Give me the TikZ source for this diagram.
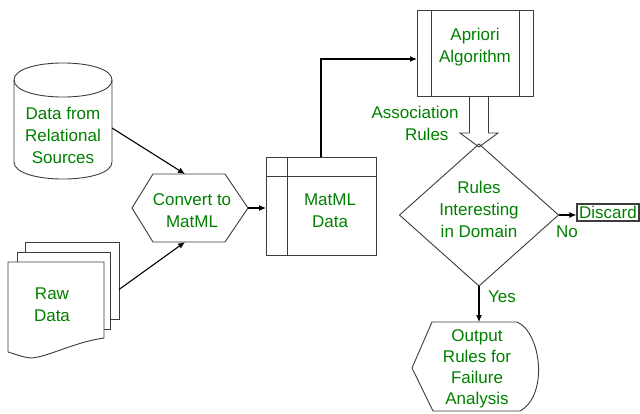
\documentclass[tikz,border=0pt]{standalone}
\usepackage{fontspec}
\setmainfont{Liberation Sans}
\usetikzlibrary{arrows.meta,calc}
\definecolor{txtgreen}{RGB}{0,128,0}
\definecolor{edgegray}{RGB}{60,60,60}
\begin{document}
\begin{tikzpicture}[x=1pt,y=-1pt,
  hold/.style={draw=none, inner sep=0pt, outer sep=0pt, rectangle},
  outline/.style={draw=edgegray, line width=0.9pt, fill=white},
  lbl/.style={text=txtgreen, font=\fontsize{17}{22}\selectfont, align=center, inner sep=0pt},
  arr/.style={draw=black, line width=1.1pt, -{Latex[length=7pt,width=6pt]}},
]
\fill[white] (0,0) rectangle (640,413);
\useasboundingbox (0,0) rectangle (640,413);

% database cylinder
\node[hold, minimum width=98pt, minimum height=116pt] (db) at (63,121) {};
\draw[outline] (14,80) -- (14,162) .. controls (14,184.7) and (112,184.7) .. (112,162) -- (112,80) .. controls (112,57.3) and (14,57.3) .. (14,80) -- cycle;
\draw[outline, fill=none] (14,80) .. controls (14,102.7) and (112,102.7) .. (112,80);

% raw data stack
\node[hold, minimum width=94pt, minimum height=77pt] (raw) at (72,280.5) {};
\draw[outline] (25,242) rectangle (119,319);
\draw[outline] (17,252) rectangle (110,329);
\draw[outline] (8,262) -- (104,262) -- (104,338) .. controls (75,342) and (50,356) .. (32,358) .. controls (25,358) and (15,354) .. (8,352) -- cycle;

% convert hexagon
\node[hold, minimum width=116pt, minimum height=68pt] (conv) at (190,208) {};
\draw[outline] (conv.west) -- ($(conv.north west)+(21,0)$) -- ($(conv.north east)+(-23,0)$) -- (conv.east) -- ($(conv.south east)+(-23,0)$) -- ($(conv.south west)+(21,0)$) -- cycle;

% MatML data box
\node[hold, draw=edgegray, line width=0.9pt, minimum width=110pt, minimum height=98pt] (matml) at (321,206) {};
\draw[edgegray, line width=0.9pt] ($(matml.north west)+(0,19)$) -- ($(matml.north east)+(0,19)$);
\draw[edgegray, line width=0.9pt] ($(matml.north west)+(21,0)$) -- ($(matml.south west)+(21,0)$);

% Apriori box
\node[hold, draw=edgegray, line width=0.9pt, minimum width=116pt, minimum height=86pt] (apriori) at (475,53) {};
\draw[edgegray, line width=0.9pt] ($(apriori.north west)+(14,0)$) -- ($(apriori.south west)+(14,0)$);
\draw[edgegray, line width=0.9pt] ($(apriori.north east)+(-14,0)$) -- ($(apriori.south east)+(-14,0)$);

% decision diamond
\node[hold, minimum width=159pt, minimum height=142pt] (dia) at (479,215) {};
\draw[outline, fill=none] (dia.west) -- (dia.north) -- (dia.east) -- (dia.south) -- cycle;

% hollow block arrow
\coordinate (ha) at (dia.north |- apriori.south);
\draw[outline, fill=none] ($(ha)+(-9.5,0)$) -- ($(ha)+(-9.5,37)$) -- ($(ha)+(-19,37)$) -- ($(dia.north)+(0,3)$) -- ($(ha)+(19,37)$) -- ($(ha)+(9.5,37)$) -- ($(ha)+(9.5,0)$);

% discard box
\node[draw=edgegray, line width=1.3pt, text=txtgreen, font=\fontsize{17}{22}\selectfont, inner sep=1pt, minimum width=62pt, minimum height=17pt] (disc) at (608,212.5) {Discard};

% output display shape
\node[hold, minimum width=127pt, minimum height=89pt] (out) at (475.5,366.5) {};
\draw[outline] (432,322) -- (517,322) .. controls (541,332) and (549,395) .. (520,411) -- (433,411) -- (412,368) -- cycle;

% connectors
\draw[arr] ($(db.east)+(0,7)$) -- ($(conv.north)+(-5,0)$);
\draw[arr] ($(raw.east)+(0,9)$) -- ($(conv.south)+(-5,0)$);
\draw[arr] (conv.east) -- (conv.east -| matml.west);
\draw[arr] (matml.north) |- ($(apriori.west)+(0,6)$);
\draw[arr] (dia.east) -- (dia.east -| disc.west);
\draw[arr] (dia.south) -- (dia.south |- out.north);

% labels
\node[lbl] (dbt) at (63,135) {Data from\\Relational\\Sources};
\node[lbl] (rawt) at (52,305) {Raw\\Data};
\node[lbl] (convt) at (192,211) {Convert to\\MatML};
\node[lbl] (matmlt) at (330,211) {MatML\\Data};
\node[lbl] (aprt) at (475,47) {Apriori\\Algorithm};
\node[lbl, align=right] (assoc) at (415,123) {Association\\Rules\hspace*{10pt}};
\node[lbl] (diat) at (479,209) {Rules\\Interesting\\in Domain};
\node[lbl] (no) at (567,232) {No};
\node[lbl] (yes) at (502,297) {Yes};
\node[lbl, font=\fontsize{17}{21}\selectfont] (outt) at (477,369) {Output\\Rules for\\Failure\\Analysis};
\end{tikzpicture}
\end{document}
